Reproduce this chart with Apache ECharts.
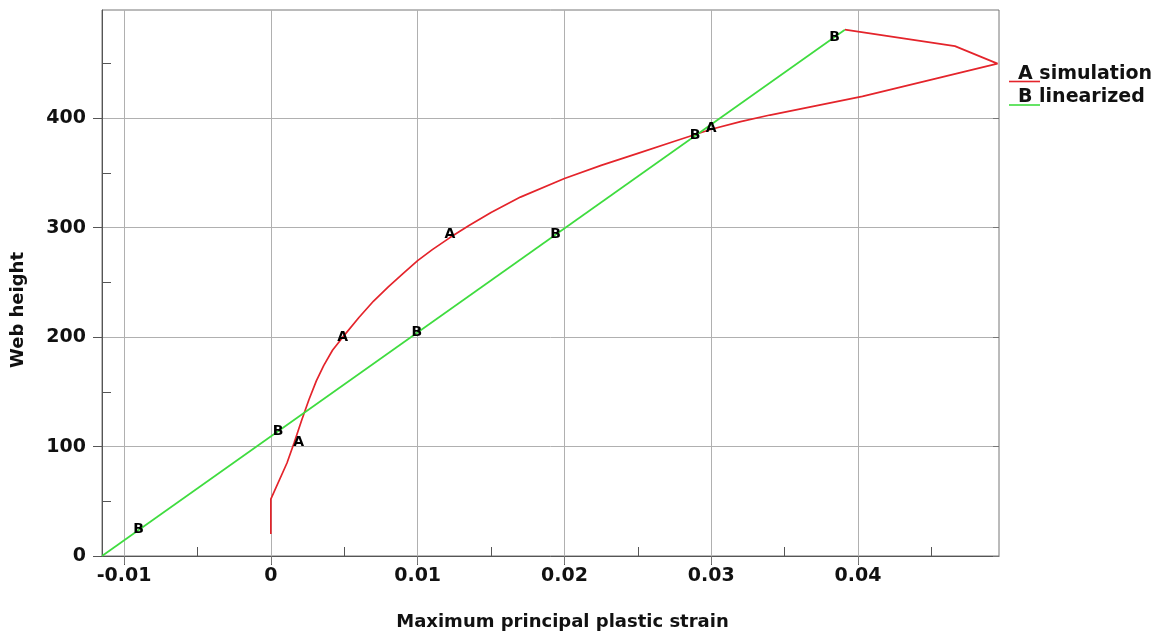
<!DOCTYPE html>
<html><head><meta charset="utf-8">
<script src="https://cdn.jsdelivr.net/npm/echarts@6/dist/echarts.min.js"></script>
<style>html,body{margin:0;padding:0;background:#fff}#c{width:1168px;height:637px}</style>
</head><body><div id="c"></div>
<script>
// ---- data ----
const xTickValues = [-0.01, 0, 0.01, 0.02, 0.03, 0.04];
const xMinorTickValues = [-0.005, 0.005, 0.015, 0.025, 0.035, 0.045];
const yTickValues = [0, 100, 200, 300, 400];
const yMinorTickValues = [50, 150, 250, 350, 450];

// A simulation
const simX = [0, 0, 0.0011, 0.0016, 0.0021, 0.0026, 0.0031, 0.0036, 0.0042, 0.0049, 0.0060, 0.0070, 0.0080, 0.0090, 0.0100, 0.0110, 0.0122, 0.0135, 0.0150, 0.0170, 0.0200, 0.0225, 0.0250, 0.0275, 0.0300, 0.0320, 0.0340, 0.0403, 0.0455, 0.0495, 0.0466, 0.0391];
const simY = [20, 52, 85, 104, 124, 143, 160, 174, 188, 200, 218, 233, 246, 258, 270, 280, 291, 302, 314, 328, 345, 357, 368, 379, 390, 397, 403, 420, 437, 450, 466, 481];
const simMarkX = [0.0019, 0.0049, 0.0122, 0.0300];
const simMarkY = [104, 200, 294, 391];

// B linearized
const linX = [-0.0115, 0.0391];
const linY = [0, 481];
const linMarkX = [-0.0090, 0.0005, 0.00995, 0.0194, 0.0289, 0.0384];
const linMarkY = [24, 114, 204, 294, 384, 474];

const X_MIN = -0.0115, X_MAX = 0.0496, Y_MIN = 0, Y_MAX = 499;

// ---- chart ----
const FONT = "'DejaVu Sans', sans-serif";
const RED = '#e4242b', GREEN = '#3fdc3f';
const gridRect = {left: 102, top: 10, width: 897, height: 546};
const chart = echarts.init(document.getElementById('c'), null, {renderer: 'canvas'});

const labelStyle = {color: '#111', fontFamily: FONT, fontWeight: 'bold', fontSize: 19};
const splitStyle = {show: true, lineStyle: {color: '#b0b0b0', width: 1}};
const markLabel = {show: true, position: 'inside', color: '#000', opacity: 1, fontFamily: FONT, fontWeight: 'bold', fontSize: 14};

const option = {
  animation: false,
  backgroundColor: '#fff',
  grid: [
    Object.assign({show: true, borderColor: '#777', borderWidth: 1, backgroundColor: 'transparent'}, gridRect),
    Object.assign({show: false}, gridRect)
  ],
  xAxis: [
    {gridIndex: 0, type: 'value', min: X_MIN, max: X_MAX, position: 'bottom',
     axisLine: {show: true, onZero: false, lineStyle: {color: '#555', width: 1}},
     axisTick: {show: true, inside: false, length: 9, customValues: xTickValues, lineStyle: {color: '#555'}},
     axisLabel: Object.assign({customValues: xTickValues, margin: 11}, labelStyle),
     splitLine: splitStyle},
    {gridIndex: 0, type: 'value', min: X_MIN, max: X_MAX, position: 'top',
     axisLine: {show: false},
     axisTick: {show: true, inside: true, length: 8, customValues: xTickValues, lineStyle: {color: '#777'}},
     axisLabel: {show: false}, splitLine: {show: false}},
    {gridIndex: 1, type: 'value', min: X_MIN, max: X_MAX, position: 'bottom',
     axisLine: {show: false, onZero: false},
     axisTick: {show: true, inside: true, length: 9, customValues: xMinorTickValues, lineStyle: {color: '#555'}},
     axisLabel: {show: false}, splitLine: {show: false}}
  ],
  yAxis: [
    {gridIndex: 0, type: 'value', min: Y_MIN, max: Y_MAX, position: 'left',
     axisLine: {show: true, onZero: false, lineStyle: {color: '#555', width: 1}},
     axisTick: {show: true, inside: false, length: 9, customValues: yTickValues, lineStyle: {color: '#555'}},
     axisLabel: Object.assign({customValues: yTickValues, margin: 16}, labelStyle),
     splitLine: splitStyle},
    {gridIndex: 0, type: 'value', min: Y_MIN, max: Y_MAX, position: 'right',
     axisLine: {show: false, onZero: false},
     axisTick: {show: true, inside: true, length: 6, customValues: yTickValues, lineStyle: {color: '#777'}},
     axisLabel: {show: false}, splitLine: {show: false}},
    {gridIndex: 1, type: 'value', min: Y_MIN, max: Y_MAX, position: 'left',
     axisLine: {show: false, onZero: false},
     axisTick: {show: true, inside: true, length: 9, customValues: yMinorTickValues, lineStyle: {color: '#555'}},
     axisLabel: {show: false}, splitLine: {show: false}}
  ],
  series: [
    {name: 'A simulation', type: 'line', xAxisIndex: 0, yAxisIndex: 0,
     data: simX.map((x, i) => [x, simY[i]]),
     symbol: 'none', showSymbol: false, smooth: false,
     lineStyle: {color: RED, width: 1.7}, itemStyle: {color: RED}, z: 3, silent: true},
    {name: 'B linearized', type: 'line', xAxisIndex: 0, yAxisIndex: 0,
     data: linX.map((x, i) => [x, linY[i]]),
     symbol: 'none', showSymbol: false,
     lineStyle: {color: GREEN, width: 1.7}, itemStyle: {color: GREEN}, z: 3, silent: true},
    {name: 'A markers', type: 'scatter', xAxisIndex: 0, yAxisIndex: 0,
     data: simMarkX.map((x, i) => [x, simMarkY[i]]),
     symbol: 'circle', symbolSize: 1, itemStyle: {color: 'rgba(0,0,0,0)'},
     label: Object.assign({formatter: 'A'}, markLabel), z: 5, silent: true},
    {name: 'B markers', type: 'scatter', xAxisIndex: 0, yAxisIndex: 0,
     data: linMarkX.map((x, i) => [x, linMarkY[i]]),
     symbol: 'circle', symbolSize: 1, itemStyle: {color: 'rgba(0,0,0,0)'},
     label: Object.assign({formatter: 'B'}, markLabel), z: 5, silent: true}
  ],
  graphic: [
    {type: 'line', shape: {x1: 1009, y1: 81.5, x2: 1040, y2: 81.5}, style: {stroke: RED, lineWidth: 1.6}, silent: true},
    {type: 'line', shape: {x1: 1009, y1: 105, x2: 1040, y2: 105}, style: {stroke: GREEN, lineWidth: 1.6}, silent: true},
    {type: 'text', x: 1018, y: 74, style: {text: 'A simulation', fontFamily: FONT, fontWeight: 'bold', fontSize: 19, fill: '#111', align: 'left', verticalAlign: 'middle', textAlign: 'left', textVerticalAlign: 'middle'}, silent: true},
    {type: 'text', x: 1018, y: 97.5, style: {text: 'B linearized', fontFamily: FONT, fontWeight: 'bold', fontSize: 19, fill: '#111', align: 'left', verticalAlign: 'middle', textAlign: 'left', textVerticalAlign: 'middle'}, silent: true},
    {type: 'text', x: 562.5, y: 622, style: {text: 'Maximum principal plastic strain', fontFamily: FONT, fontWeight: 'bold', fontSize: 18, fill: '#111', align: 'center', verticalAlign: 'middle', textAlign: 'center', textVerticalAlign: 'middle'}, silent: true},
    {type: 'text', x: 18, y: 310, rotation: Math.PI / 2, style: {text: 'Web height', fontFamily: FONT, fontWeight: 'bold', fontSize: 18, fill: '#111', align: 'center', verticalAlign: 'middle', textAlign: 'center', textVerticalAlign: 'middle'}, silent: true}
  ]
};
chart.setOption(option);
</script>
</body></html>
